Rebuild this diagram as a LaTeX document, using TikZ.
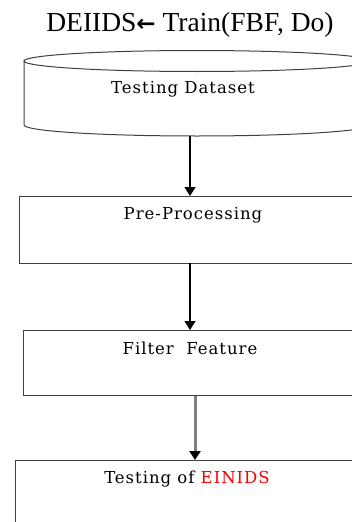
\documentclass[tikz,border=0pt]{standalone}
\usepackage{fontspec}
\setmainfont{Liberation Serif}
\newfontfamily\arrowfont{DejaVu Sans}
\newfontfamily\boxfont[LetterSpace=6]{DejaVu Serif}
\usetikzlibrary{arrows.meta}
\definecolor{edgegray}{HTML}{404040}
\definecolor{shaftgray}{HTML}{808080}
\begin{document}
\begin{tikzpicture}[x=1pt,y=-1pt,
  boxline/.style={draw=edgegray, line width=1pt},
  boxtext/.style={inner sep=0pt, font=\boxfont\fontsize{16.5}{18}\selectfont, anchor=base},
  flow/.style={draw=black, line width=1.2pt, -{Triangle[length=9pt,width=11pt]}},
  grayflow/.style={draw=shaftgray, line width=3pt, -{Triangle[length=9pt,width=11pt,color=black,fill=black]}}]
\useasboundingbox (0,0) rectangle (352,522);
\clip (0,0) rectangle (352,522);
% title
\node[inner sep=0pt, anchor=base, font=\fontsize{27.5}{30}\selectfont] (title) at (190,31) {DEIIDS{\arrowfont\bfseries\fontsize{23}{24}\selectfont←} Train(FBF, Do)};
% cylinder
\draw[boxline] (24,61) arc[start angle=180, end angle=0, x radius=173, y radius=10.5]
  -- (370,125) arc[start angle=0, end angle=180, x radius=173, y radius=11] -- cycle;
\draw[boxline] (24,61) arc[start angle=180, end angle=360, x radius=173, y radius=10.5];
\coordinate (cylbot) at (190,136);
\node[boxtext] (cyltext) at (183,93) {Testing Dataset};
% boxes
\node[boxline, rectangle, minimum width=350pt, minimum height=67pt, anchor=north west, inner sep=0pt] (pre) at (19,196) {};
\node[boxtext] (pretext) at (193,219) {Pre-Processing};
\node[boxline, rectangle, minimum width=350pt, minimum height=65pt, anchor=north west, inner sep=0pt] (filt) at (23,330) {};
\node[boxtext] (filttext) at (190,354) {Filter\ \ Feature};
\node[boxline, rectangle, minimum width=360pt, minimum height=90pt, anchor=north west, inner sep=0pt] (test) at (15,460) {};
\node[boxtext] (testtext) at (187,483) {Testing of \textcolor{red}{EINIDS}};
% arrows
\draw[flow] (cylbot) -- (cylbot |- pre.north);
\draw[flow] (190,263) -- (190,330);
\draw[grayflow] (195,396) -- (195,460);
\end{tikzpicture}
\end{document}
